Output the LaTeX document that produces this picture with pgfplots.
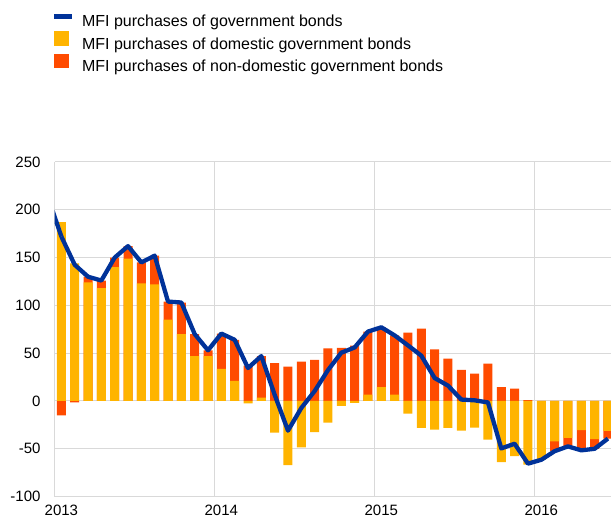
\documentclass[border=0pt]{standalone}
\usepackage{fontspec}
\setmainfont{Liberation Sans}
\usepackage{pgfplots}
\pgfplotsset{compat=1.18}
\usepackage{pgfplotstable}
\definecolor{ecbblue}{HTML}{003299}
\definecolor{ecbyellow}{HTML}{FFB400}
\definecolor{ecbred}{HTML}{FF4B00}
\definecolor{gridgray}{HTML}{D9D9D9}

% x = month index (Jan 2013 = 0.5), dom = domestic, nd = non-domestic, tot = total
\pgfplotstableread{
x dom nd tot
0.5 187 -15 172
1.5 144 -1.5 142.5
2.5 124 6 130
3.5 118 8 126
4.5 140 10 150
5.5 149 13 162
6.5 123 22 145
7.5 122 30 152
8.5 85 19 104
9.5 70 33 103
10.5 47 23 70
11.5 47 6 53
12.5 33.5 37 70.5
13.5 21 43 64
14.5 -2.5 37 34.5
15.5 3.5 43.5 47
16.5 -33 39.5 6.5
17.5 -67 36 -31
18.5 -48.6 41.3 -7.3
19.5 -32.6 43 10.4
20.5 -22.7 55 32.3
21.5 -5 55.5 50.5
22.5 -2 58 56
23.5 6.6 66 72.6
24.5 14.6 62.5 77.1
25.5 6.6 62 68.6
26.5 -13.2 71.4 58.2
27.5 -28.2 75.6 47.4
28.5 -30 54 24
29.5 -28.2 44.3 16.1
30.5 -31 32.5 1.5
31.5 -27.8 28.5 0.7
32.5 -40.5 39 -1.5
33.5 -64 14.4 -49.6
34.5 -57.7 13 -44.7
35.5 -66.5 1 -65.5
36.5 -61.5 0 -61.5
37.5 -42.3 -10.2 -52.5
38.5 -38.7 -8.8 -47.5
39.5 -30.6 -21 -51.6
40.5 -39.8 -10.2 -50
41.5 -31.3 -8 -39.3
}\data

\begin{document}
\begin{tikzpicture}
\useasboundingbox (-54.7pt,-24.4pt) rectangle (556.3pt,496.6pt);
\begin{axis}[
  scale only axis, width=556.3pt, height=334.6pt,
  xmin=0, xmax=41.73, ymin=-100, ymax=250,
  xtick={0,12,24,36}, xticklabels={2013,2014,2015,2016},
  ytick={-100,-50,...,250},
  grid=major, major grid style={gridgray, line width=1pt},
  axis line style={draw=none}, major tick length=0pt,
  tick label style={font=\fontsize{15}{18}\selectfont},
  /pgf/number format/assume math mode=true,
  yticklabel style={inner sep=0pt, anchor=east, xshift=-14pt},
  xticklabel style={inner sep=0pt, anchor=north, yshift=-8.4pt, xshift=6.67pt},
  legend style={at={(axis description cs:0,1)}, anchor=north west,
    draw=none, fill=none, inner sep=0pt, xshift=-0.4pt, yshift=150pt,
    font=\fontsize{16}{19}\selectfont, column sep=10.7pt,
    nodes={inner xsep=0pt, inner ysep=3.1pt}},
  legend cell align=left,
]
\addlegendimage{legend image code/.code={\fill[ecbblue] (0pt,3.6pt) rectangle (16.5pt,8.1pt);}}
\addlegendentry{MFI purchases of government bonds}
\addlegendimage{legend image code/.code={\fill[ecbyellow] (0pt,-0.8pt) rectangle (14pt,12.5pt);}}
\addlegendentry{MFI purchases of domestic government bonds}
\addlegendimage{legend image code/.code={\fill[ecbred] (0pt,-0.8pt) rectangle (14pt,12.5pt);}}
\addlegendentry{MFI purchases of non-domestic government bonds}

% non-domestic part: stacked on domestic when both have the same sign
\addplot[ybar, bar width=9pt, bar shift=0pt, fill=ecbred, draw=none, forget plot]
  table[x=x, y expr={ifthenelse(\thisrow{dom}*\thisrow{nd}>0, \thisrow{dom}+\thisrow{nd}, \thisrow{nd})}] {\data};
\addplot[ybar, bar width=9pt, bar shift=0pt, fill=ecbyellow, draw=none, forget plot]
  table[x=x, y=dom] {\data};
\addplot[ecbblue, line width=4.3pt, line join=round, forget plot]
  coordinates {(-0.5,213) (0.5,172)};
\addplot[ecbblue, line width=4.3pt, line join=round, forget plot]
  table[x=x, y=tot] {\data};
\end{axis}
\end{tikzpicture}
\end{document}
